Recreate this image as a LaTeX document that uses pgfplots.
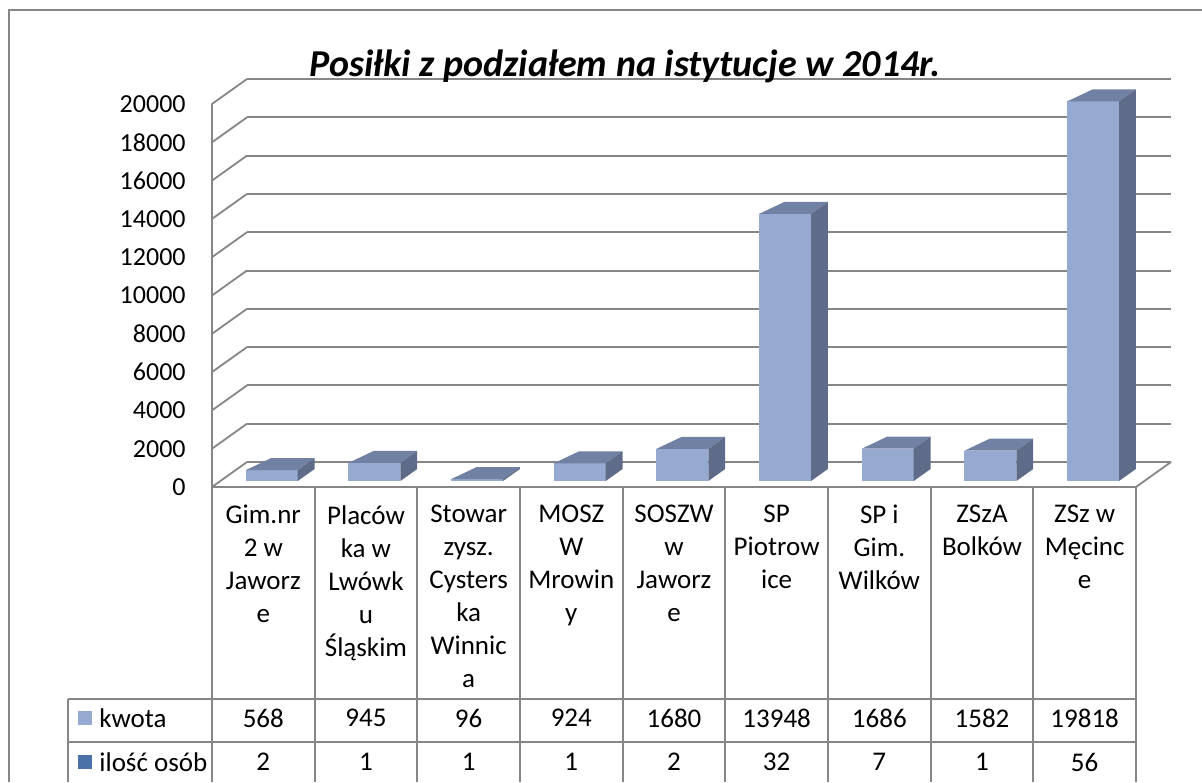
\documentclass[border=0pt]{standalone}
\usepackage{pgfplots}
\pgfplotsset{compat=1.18}
\usepackage{pgfplotstable}
\usepackage{fontspec}
\setmainfont{Carlito}
\definecolor{frontc}{RGB}{149,169,209}
\definecolor{topc}{RGB}{112,129,164}
\definecolor{sidec}{RGB}{94,108,138}
\definecolor{osobyc}{RGB}{74,114,168}
\definecolor{gridc}{RGB}{134,134,134}

\pgfplotstableread{
idx kwota osoby
0 568 2
1 945 1
2 96 1
3 924 1
4 1680 2
5 13948 32
6 1686 7
7 1582 1
8 19818 56
}\datatable

\begin{document}
\begin{tikzpicture}[x=0.5pt,y=0.5pt]
\useasboundingbox (0,0) rectangle (1202,782);
\draw[gridc, line width=1pt] (9,0) -- (9,772) -- (1202,772);
\begin{axis}[
  at={(123.5pt,160pt)}, anchor=south west,
  scale only axis, width=462pt, height=191.5pt,
  xmin=-0.159, xmax=8.841, ymin=0, ymax=20000,
  clip=false,
  axis line style={draw=none},
  xtick=\empty,
  ytick={0,2000,...,20000},
  ymajorgrids, grid style={gridc, line width=1pt},
  major tick length=0pt,
  scaled y ticks=false,
  /pgf/number format/1000 sep={},
  /pgf/number format/assume math mode=true,
  yticklabel style={anchor=east, inner sep=0pt, xshift=-30.5pt, yshift=-12.5pt, font=\fontsize{13}{15}\selectfont},
  unbounded coords=jump,
]
% side wall and floor
\addplot[gridc, line width=0.9pt] coordinates {
 (-0.5,-1305) (-0.159,0) (nan,nan)
 (-0.5,695) (-0.159,2000) (nan,nan)
 (-0.5,2695) (-0.159,4000) (nan,nan)
 (-0.5,4695) (-0.159,6000) (nan,nan)
 (-0.5,6695) (-0.159,8000) (nan,nan)
 (-0.5,8695) (-0.159,10000) (nan,nan)
 (-0.5,10695) (-0.159,12000) (nan,nan)
 (-0.5,12695) (-0.159,14000) (nan,nan)
 (-0.5,14695) (-0.159,16000) (nan,nan)
 (-0.5,16695) (-0.159,18000) (nan,nan)
 (-0.5,18695) (-0.159,20000) (nan,nan)
 (-0.5,18695) (-0.5,-1305) (8.5,-1305) (8.841,0)
};
\pgfplotsinvokeforeach{0,...,8}{
  \pgfplotstablegetelem{#1}{kwota}\of\datatable
  \edef\vf{\the\numexpr\pgfplotsretval-992\relax}
  \edef\vb{\the\numexpr\pgfplotsretval-366\relax}
  \pgfmathsetmacro{\xL}{#1-0.171}
  \pgfmathsetmacro{\xR}{#1+0.335}
  \pgfmathsetmacro{\xRb}{#1+0.499}
  \pgfmathsetmacro{\xLb}{#1+0.075}
  \addplot[fill=frontc, draw=none] coordinates {(\xL,-992) (\xR,-992) (\xR,\vf) (\xL,\vf)};
  \addplot[fill=topc, draw=none] coordinates {(\xL,\vf) (\xR,\vf) (\xRb,\vb) (\xLb,\vb)};
  \addplot[fill=sidec, draw=none] coordinates {(\xR,-992) (\xRb,-366) (\xRb,\vb) (\xR,\vf)};
}
\end{axis}
% title
\node[anchor=base, font=\fontsize{19}{22}\selectfont\bfseries\itshape] at (625,705) {Posiłki z podziałem na istytucje w 2014r.};
% data table
\begin{scope}[gridc, line width=1pt]
\draw (68,83) -- (1136,83);
\draw (68,40) -- (1136,40);
\draw (68,83) -- (68,0);
\foreach \k in {0,...,9} { \draw (212+102.67*\k,295) -- (212+102.67*\k,0); }
\end{scope}
\begin{scope}[every node/.style={font=\fontsize{13.5}{16.5}\selectfont, inner sep=0pt, align=center}]
\node[anchor=north] at (263.3+102.67*0,277) {Gim.nr\\2 w\\Jaworz\\e};
\node[anchor=north] at (263.3+102.67*1,277) {Placów\\ka w\\Lwówk\\u\\Śląskim};
\node[anchor=north] at (263.3+102.67*2,277) {Stowar\\zysz.\\Cysters\\ka\\Winnic\\a};
\node[anchor=north] at (263.3+102.67*3,277) {MOSZ\\W\\Mrowin\\y};
\node[anchor=north] at (263.3+102.67*4,277) {SOSZW\\w\\Jaworz\\e};
\node[anchor=north] at (263.3+102.67*5,277) {SP\\Piotrow\\ice};
\node[anchor=north] at (263.3+102.67*6,277) {SP i\\Gim.\\Wilków};
\node[anchor=north] at (263.3+102.67*7,277) {ZSzA\\Bolków};
\node[anchor=north] at (263.3+102.67*8,277) {ZSz w\\Męcinc\\e};
\foreach \v [count=\i from 0] in {568,945,96,924,1680,13948,1686,1582,19818}
  { \node at (263.3+102.67*\i,64) {\v}; }
\foreach \v [count=\i from 0] in {2,1,1,1,2,32,7,1,56}
  { \node at (263.3+102.67*\i,20) {\v}; }
\fill[frontc] (78,57) rectangle (92,71);
\node[anchor=west] at (99,64) {kwota};
\fill[osobyc] (78,13) rectangle (92,27);
\node[anchor=west] at (99,20) {ilość osób};
\end{scope}
\end{tikzpicture}
\end{document}
